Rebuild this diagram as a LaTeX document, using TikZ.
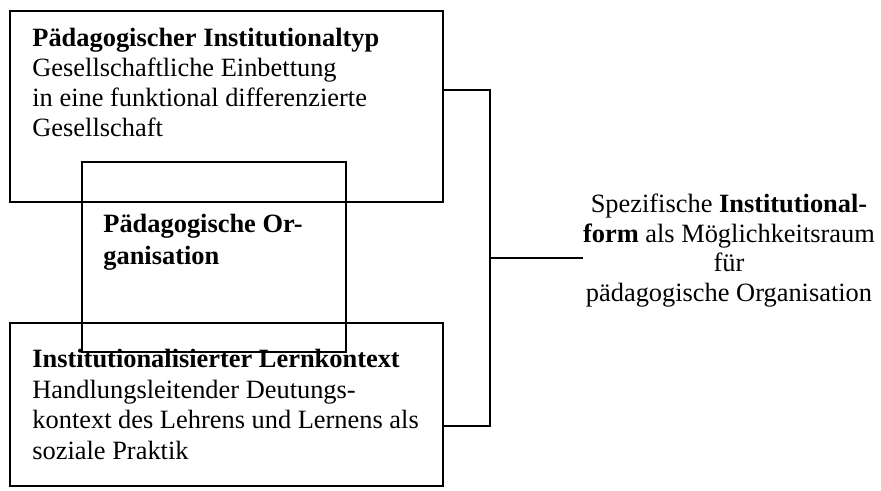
\documentclass[tikz,border=0pt]{standalone}
\usepackage{fontspec}
\setmainfont{Liberation Serif}
\usetikzlibrary{positioning}

\tikzset{
  box/.style={draw, line width=0.9pt, rectangle, inner sep=0pt},
  txt/.style={inner sep=0pt, anchor=north west, align=left,
    font=\fontsize{13.2}{15}\selectfont},
  link/.style={draw, line width=0.9pt}
}

\begin{document}
\begin{tikzpicture}[x=0.5pt, y=-0.5pt]
			\useasboundingbox (0,0) rectangle (881,491);
			% Kästen
			\node[box, minimum width=216.5pt, minimum height=95.5pt] at(226.5,106.5) (typ) {};
			\node[box, minimum width=216.5pt, minimum height=81.5pt] at(226.5,404.5) (kontext) {};
			\node[box, minimum width=132pt, minimum height=95pt] at(214,257) (org) {};
			
			% Texte
			\node[txt] at(32,28) (typtxt) {\textbf{Pädagogischer Institutionaltyp}\\Gesellschaftliche Einbettung\\in eine funktional differenzierte\\Gesellschaft};
			\node[txt, font=\fontsize{13.2}{16}\selectfont] at(103,214) (orgtxt) {\textbf{Pädagogische Or-}\\\textbf{ganisation}};
			\node[txt, font=\fontsize{13.2}{15.3}\selectfont] at(32,349) (kontexttxt) {\textbf{Institutionalisierter Lernkontext}\\Handlungsleitender Deutungs-\\kontext des Lehrens und Lernens als\\soziale Praktik};
			\node[txt, anchor=north, align=center, font=\fontsize{13.2}{14.7}\selectfont] at(729,194) (form) {Spezifische \textbf{Institutional-}\\\textbf{form} als Möglichkeitsraum\\für\\pädagogische Organisation};
			
			% Klammer
			\coordinate (rail) at(490,258);
			\draw[link] (typ.east |- 0,90) -| (rail) |- (kontext.east |- 0,426);
			\draw[link] (rail) -- (form.west |- rail);
			\end{tikzpicture}
\end{document}
